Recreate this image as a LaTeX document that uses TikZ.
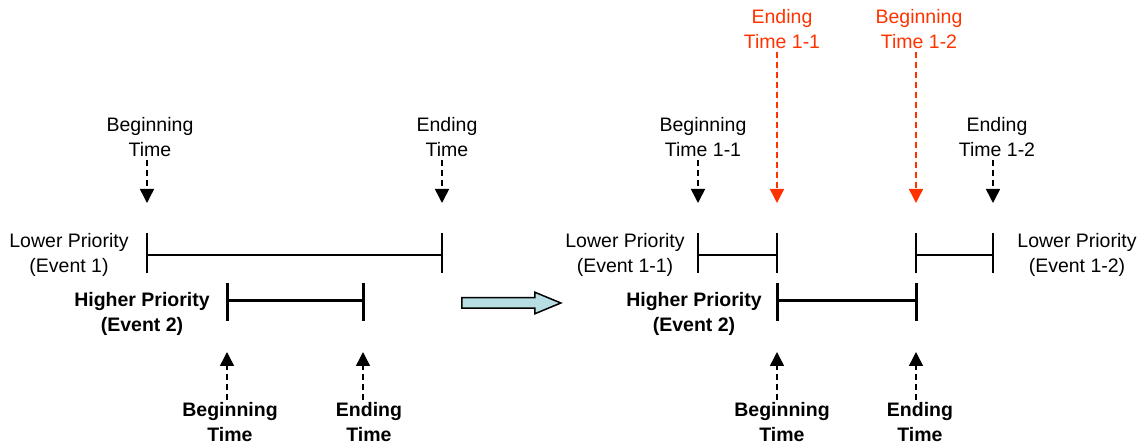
\documentclass[tikz,border=0pt]{standalone}
\usepackage{fontspec}
\setmainfont{Liberation Sans}
\usetikzlibrary{arrows.meta,shapes.arrows}
\definecolor{cutred}{RGB}{255,51,0}
\definecolor{shiftcyan}{RGB}{183,222,226}
\begin{document}
\begin{tikzpicture}[x=1pt,y=-1pt,
    lbl/.style={align=center,inner sep=0pt,font=\fontsize{19.5}{25}\selectfont},
    blbl/.style={lbl,font=\fontsize{19.5}{25}\selectfont\bfseries},
    lowbar/.style={line width=1.5pt},
    highbar/.style={line width=3pt},
    cue/.style={dash pattern=on 6pt off 4pt,line width=1.5pt,shorten <=3pt,
        -{Triangle[width=14pt,length=14pt]}},
    cutcue/.style={cue,draw=cutred,fill=cutred,text=cutred}]
    \useasboundingbox (0,0) rectangle (1144,446);
    \def\ylow{255}
    \def\yhigh{301}
    % before: two events
    \node[lbl] (lowA) at (69,\ylow) {Lower Priority\\(Event 1)};
    \node[blbl] (highA) at (142,313.5) {Higher Priority\\(Event 2)};
    \coordinate (lA1) at (147,\ylow);
    \coordinate (lA2) at (442,\ylow);
    \coordinate (hA1) at (227,\yhigh);
    \coordinate (hA2) at (363,\yhigh);
    \draw[lowbar] (lA1) -- (lA2);
    \draw[highbar] (hA1) -- (hA2);
    % after: event 1 cut in two
    \node[lbl] (lowB1) at (625,\ylow) {Lower Priority\\(Event 1-1)};
    \node[lbl] (lowB2) at (1077,\ylow) {Lower Priority\\(Event 1-2)};
    \node[blbl] (highB) at (694,313.5) {Higher Priority\\(Event 2)};
    \coordinate (lB1) at (698,\ylow);
    \coordinate (lB2) at (777,\ylow);
    \coordinate (lB3) at (916,\ylow);
    \coordinate (lB4) at (993,\ylow);
    \coordinate (hB1) at (777,\yhigh);
    \coordinate (hB2) at (916,\yhigh);
    \draw[lowbar] (lB1) -- (lB2);
    \draw[lowbar] (lB3) -- (lB4);
    \draw[highbar] (hB1) -- (hB2);
    \foreach \p in {lA1,lA2,lB1,lB2,lB3,lB4}\draw[lowbar] (\p) ++(0,-22) -- ++(0,40);
    \foreach \p in {hA1,hA2,hB1,hB2}\draw[highbar] (\p) ++(0,-18) -- ++(0,38);
    % times from above
    \foreach \n/\x/\tx/\txt in {tA1/147/150/{Beginning\\Time},tA2/442/447/{Ending\\Time},
        tB1/698/703/{Beginning\\Time 1-1},tB4/993/997/{Ending\\Time 1-2}}{
        \node[lbl] (\n) at (\tx,137.5) {\txt};
        \coordinate (\n tip) at (\x,203);
        \draw[cue] (\n.south -| \n tip) -- (\n tip);
    }
    \foreach \n/\x/\tx/\txt in {tB2/777/782/{Ending\\Time 1-1},tB3/916/919/{Beginning\\Time 1-2}}{
        \node[lbl,text=cutred] (\n) at (\tx,29.5) {\txt};
        \coordinate (\n tip) at (\x,203);
        \draw[cutcue] (\n.south -| \n tip) -- (\n tip);
    }
    % times from below
    \foreach \n/\x/\tx/\txt in {uA1/227/230/{Beginning\\Time},uA2/363/369/{Ending\\Time},
        uB1/777/782/{Beginning\\Time},uB2/916/920/{Ending\\Time}}{
        \node[blbl] (\n) at (\tx,422.5) {\txt};
        \coordinate (\n tip) at (\x,352);
        \draw[cue] (\n.north -| \n tip) -- (\n tip);
    }
    % shift arrow
    \node[single arrow,draw,fill=shiftcyan,line width=1.5pt,inner sep=4.5pt,
        minimum height=99pt,minimum width=20pt,single arrow head extend=5.5pt,
        single arrow tip angle=45] (shift) at (505,303) {};
\end{tikzpicture}
\end{document}
